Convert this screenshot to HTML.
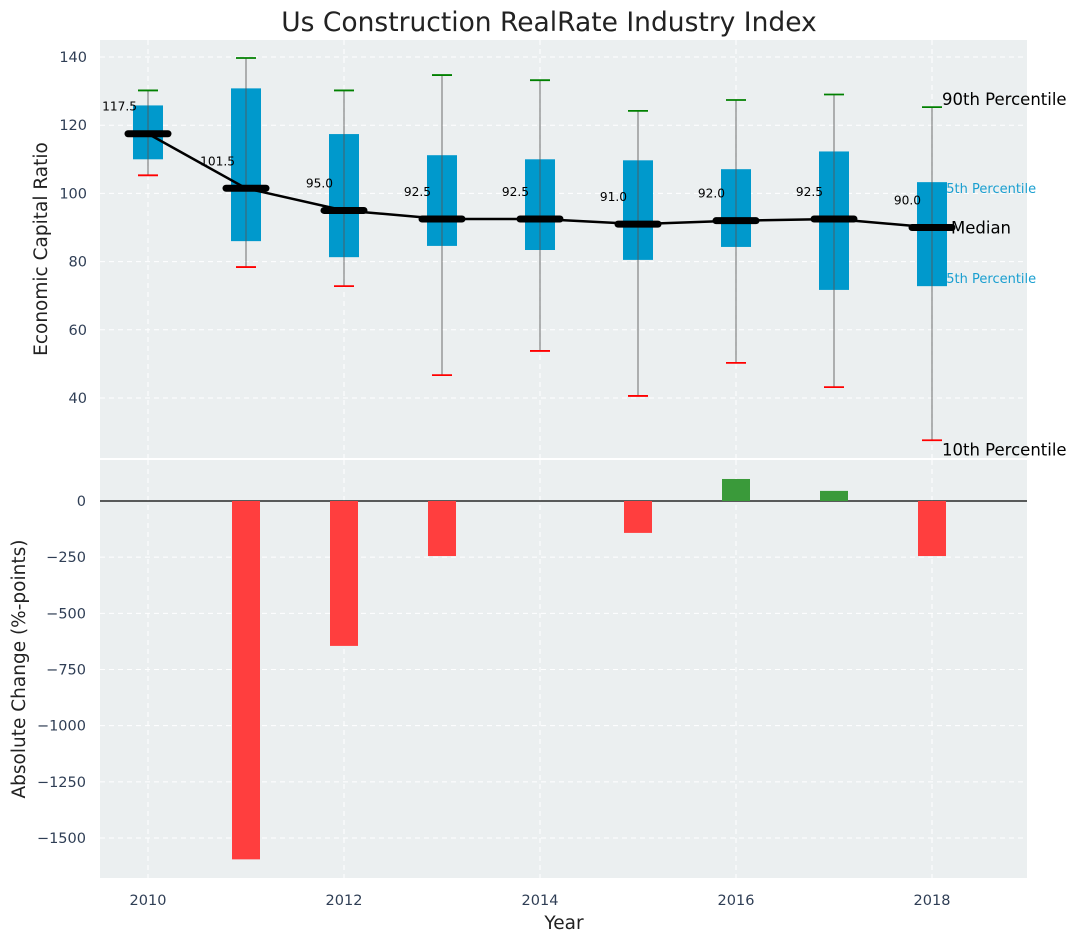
<!DOCTYPE html>
<html><head><meta charset="utf-8">
<style>
html,body{margin:0;padding:0;background:#fff;}
svg{display:block;font-family:"DejaVu Sans","Liberation Sans",sans-serif;}
</style></head>
<body>
<svg id="chart" width="1077" height="942" viewBox="0 0 1077 942" xmlns="http://www.w3.org/2000/svg">
  <text x="549" y="31" text-anchor="middle" font-size="26.5" fill="#222">Us Construction RealRate Industry Index</text>
  <rect x="100" y="40" width="927" height="418" fill="#ebeff0"/>
  <rect x="100" y="460" width="927" height="418" fill="#ebeff0"/>
  <g id="grid"></g>
  <g id="marks"></g>
  <g id="axes"></g>
  <text transform="translate(47,249) rotate(-90)" text-anchor="middle" font-size="18.5" fill="#222">Economic Capital Ratio</text>
  <text transform="translate(25,669) rotate(-90)" text-anchor="middle" font-size="18.5" fill="#222">Absolute Change (%-points)</text>
  <text x="564" y="929" text-anchor="middle" font-size="18.5" fill="#222">Year</text>
</svg>
<script>
const years = [2010,2011,2012,2013,2014,2015,2016,2017,2018];
const p10 = [105.3,78.4,72.8,46.7,53.8,40.6,50.3,43.2,27.6];
const p25 = [110.0,86.0,81.3,84.6,83.4,80.5,84.3,71.7,72.8];
const medians = [117.5,101.5,95.0,92.5,92.5,91.0,92.0,92.5,90.0];
const p75 = [125.8,130.8,117.4,111.2,110.0,109.7,107.1,112.3,103.3];
const p90 = [130.2,139.7,130.2,134.7,133.2,124.2,127.4,129.0,125.3];
const changes = [0,-1595,-645,-245,0,-142,98,45,-245];
const topTicks = [40,60,80,100,120,140];
const bottomTicks = [0,-250,-500,-750,-1000,-1250,-1500];
const xTicks = [2010,2012,2014,2016,2018];

const NS="http://www.w3.org/2000/svg";
const X = v => 148 + (v-2010)*98;
const YT = v => 57 + (140-v)*3.41;
const YB = v => 501 - v*0.22467;
function mk(parent,tag,attrs){const e=document.createElementNS(NS,tag);for(const k in attrs)e.setAttribute(k,attrs[k]);document.getElementById(parent).appendChild(e);return e;}

topTicks.forEach(t=>{const l=mk('grid','line',{x1:100,x2:1027,y1:YT(t),y2:YT(t),stroke:'#fff','stroke-dasharray':'5,4','stroke-width':1});

const tx=mk('axes','text',{x:87,y:YT(t)+5,'text-anchor':'end','font-size':14.5,fill:'#2f3e55'});tx.textContent=t;
});
bottomTicks.forEach(t=>{const l=mk('grid','line',{x1:100,x2:1027,y1:YB(t),y2:YB(t),stroke:'#fff','stroke-dasharray':'5,4','stroke-width':1});

const tx=mk('axes','text',{x:86,y:YB(t)+5,'text-anchor':'end','font-size':14.5,fill:'#2f3e55'});tx.textContent=String(t).replace('-','\u2212');
});
xTicks.forEach(t=>{[[40,458],[460,878]].forEach(r=>{const l=mk('grid','line',{x1:X(t),x2:X(t),y1:r[0],y2:r[1],stroke:'#fff','stroke-dasharray':'5,4','stroke-width':1});
});
const tx=mk('axes','text',{x:X(t),y:905,'text-anchor':'middle','font-size':14.5,fill:'#2f3e55'});tx.textContent=t;
});

const z=mk('marks','line',{x1:100,x2:1027,y1:YB(0),y2:YB(0),stroke:'#000','stroke-width':1.2});


years.forEach((y,i)=>{const v=changes[i];if(v===0)return;
const top=Math.min(YB(0),YB(v)),h=Math.abs(YB(v)-YB(0));
const b=mk('marks','rect',{x:X(y)-14,y:top,width:28,height:h,fill:v<0?'#ff3e3e':'#3a9a3a'});
});

const li=years.length-1, lx=X(years[li]);
function ann(name,txt,x,y,size,col){const t=mk('marks','text',{x:x,y:y,'font-size':size,fill:col});t.textContent=txt;
return t;}
ann('annotation-75th','75th Percentile',lx+6,YT(p75[li])+11,13,'#1a9fd0');
ann('annotation-25th','25th Percentile',lx+6,YT(p25[li])-3,13,'#1a9fd0');

years.forEach((y,i)=>{
const b=mk('marks','rect',{x:X(y)-15,y:YT(p75[i]),width:30,height:YT(p25[i])-YT(p75[i]),fill:'#0099cc'});

const w=mk('marks','line',{x1:X(y),x2:X(y),y1:YT(p90[i]),y2:YT(p10[i]),stroke:'#555','stroke-opacity':0.7,'stroke-width':1.2});

const h=mk('marks','line',{x1:X(y)-10,x2:X(y)+10,y1:YT(p90[i]),y2:YT(p90[i]),stroke:'#008000','stroke-width':1.8});

const l=mk('marks','line',{x1:X(y)-10,x2:X(y)+10,y1:YT(p10[i]),y2:YT(p10[i]),stroke:'#ff0000','stroke-width':1.8});

});
const pl=mk('marks','polyline',{points:years.map((y,i)=>X(y)+','+YT(medians[i])).join(' '),fill:'none',stroke:'#000','stroke-width':2.5});

years.forEach((y,i)=>{
const m=mk('marks','line',{x1:X(y)-20,x2:X(y)+20,y1:YT(medians[i]),y2:YT(medians[i]),stroke:'#000','stroke-width':7,'stroke-linecap':'round'});

const t=mk('marks','text',{x:X(y)-11,y:YT(medians[i])-23,'text-anchor':'end','font-size':12.2,fill:'#000'});
t.textContent=medians[i].toFixed(1);

});
ann('annotation-90th','90th Percentile',lx+10,YT(p90[li])-2,16.5,'#000');
ann('annotation-median','Median',lx+19,YT(medians[li])+6,16.5,'#000');
ann('annotation-10th','10th Percentile',lx+10,YT(p10[li])+15,16.5,'#000');
</script>
</body></html>
